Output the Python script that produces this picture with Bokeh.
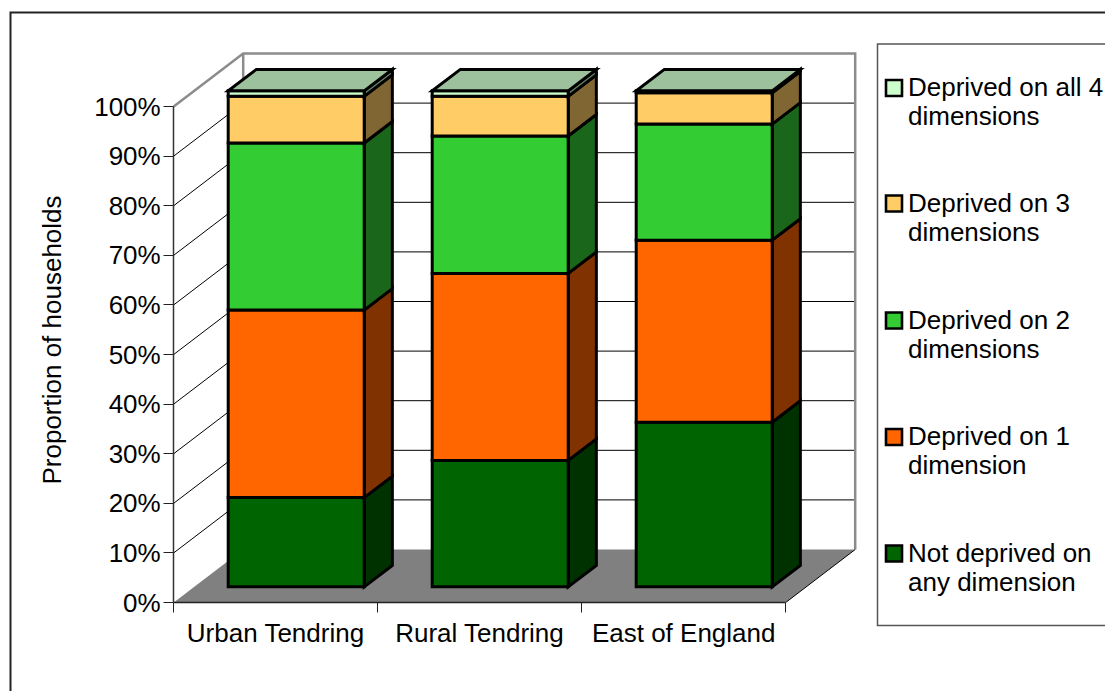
import math
from bokeh.plotting import figure
from bokeh.models import ColumnDataSource, FixedTicker, Range1d
from bokeh.core.properties import value
from bokeh.embed import file_html
from bokeh.resources import INLINE

categories = ["Urban Tendring", "Rural Tendring", "East of England"]
series_names = ["Not deprived on any dimension", "Deprived on 1 dimension",
                "Deprived on 2 dimensions", "Deprived on 3 dimensions",
                "Deprived on all 4 dimensions"]
not_deprived = [18.0, 25.5, 33.2]
deprived_1 = [37.8, 37.7, 36.7]
deprived_2 = [33.7, 27.7, 23.4]
deprived_3 = [9.4, 8.0, 6.3]
deprived_4 = [1.1, 1.1, 0.4]
y_ticks = [0, 10, 20, 30, 40, 50, 60, 70, 80, 90, 100]

legend_first = ["Not deprived on", "Deprived on 1", "Deprived on 2", "Deprived on 3", "Deprived on all 4"]
legend_second = ["any dimension", "dimension", "dimensions", "dimensions", "dimensions"]
front_colors = ["#006400", "#FF6600", "#33CC33", "#FFCC66", "#CCFFCC"]
side_colors = ["#003200", "#803300", "#1A661A", "#806633", "#668066"]
top_color = "#9CC19C"

FONT = "Liberation Sans"
FS = "26px"
W, H = 1105, 691
# pixel position of the data origin on the canvas
X0, Y0 = 173.2, 602
PX_PER_CAT, PX_PER_PCT = 204.0, 4.96
DX = 69.5 / PX_PER_CAT
DY = 53.0 / PX_PER_PCT


def px(x):
    return (x - X0) / PX_PER_CAT


def py(y):
    return (Y0 - y) / PX_PER_PCT


p = figure(width=W, height=H, output_backend="svg", toolbar_location=None,
           x_range=Range1d(px(0), px(W)), y_range=Range1d(py(H), py(0)),
           min_border_left=0, min_border_right=0, min_border_top=0, min_border_bottom=0,
           outline_line_color=None)
p.grid.visible = False

# chart border and legend box
p.line([px(10), px(10), px(W + 5)], [py(H + 5), py(12), py(12)],
       line_color="#222222", line_width=2, line_join="miter")
p.line([px(W + 5), px(877), px(877), px(W + 5)], [py(43.5), py(43.5), py(625), py(625)],
       line_color="#555555", line_width=1.5, line_join="miter")

# walls
gx, gy = [], []
for v in y_ticks[1:-1]:
    gx.append([0, DX, len(categories) + DX])
    gy.append([v, v + DY, v + DY])
p.multi_line(gx, gy, line_color="#000000", line_width=1)
p.line([0, DX, len(categories) + DX, len(categories) + DX],
       [100, 100 + DY, 100 + DY, DY], line_color="#8C8C8C", line_width=2.5,
       line_join="miter")
p.line([DX, DX], [DY, 100 + DY], line_color="#8C8C8C", line_width=2.5)

# floor
p.patch([0, len(categories), len(categories) + DX, DX], [0, 0, DY, DY],
        fill_color="#808080", line_color=None)
p.line([len(categories), len(categories) + DX], [0, DY], line_color="#000000", line_width=1)

# stacked 3D bars
stacks = [not_deprived, deprived_1, deprived_2, deprived_3, deprived_4]
BAR_GAP, BAR_W = 1 / 6, 2 / 3
D0, D1 = 0.295, 0.7
xs, ys, fills = [], [], []
for i in range(len(categories)):
    x0 = i + BAR_GAP + D0 * DX
    x1 = x0 + BAR_W
    y_base = D0 * DY
    bx = (D1 - D0) * DX
    by = (D1 - D0) * DY
    bottom = y_base
    for s, col in enumerate(stacks):
        top = bottom + col[i]
        xs.append([x1, x1 + bx, x1 + bx, x1])
        ys.append([bottom, bottom + by, top + by, top])
        fills.append(side_colors[s])
        xs.append([x0, x1, x1, x0])
        ys.append([bottom, bottom, top, top])
        fills.append(front_colors[s])
        bottom = top
    xs.append([x0, x1, x1 + bx, x0 + bx])
    ys.append([bottom, bottom, bottom + by, bottom + by])
    fills.append(top_color)
p.patches(xs, ys, fill_color=fills, line_color="#000000", line_width=3, line_join="miter")

# axes, held at the data origin
yax = p.yaxis[0]
yax.fixed_location = 0
yax.ticker = FixedTicker(ticks=y_ticks)
yax.bounds = (0, 100)
yax.major_label_overrides = {v: f"{v}%" for v in y_ticks}
yax.major_label_text_font = FONT
yax.major_label_text_font_size = FS
yax.major_label_text_color = "#000000"
yax.major_label_standoff = 3
yax.major_tick_in = 0
yax.major_tick_out = 10
yax.major_tick_line_color = "#222222"
yax.minor_tick_line_color = None
yax.axis_line_color = "#333333"
yax.axis_line_width = 1.5

xax = p.xaxis[0]
xax.fixed_location = 0
xax.ticker = FixedTicker(ticks=[i + 0.5 for i in range(len(categories))],
                         minor_ticks=list(range(len(categories) + 1)))
xax.bounds = (0, len(categories))
xax.major_label_overrides = {i + 0.5: c for i, c in enumerate(categories)}
xax.major_label_text_font = FONT
xax.major_label_text_font_size = FS
xax.major_label_text_color = "#000000"
xax.major_label_standoff = 5
xax.major_tick_in = 0
xax.major_tick_out = 10
xax.major_tick_line_color = None
xax.minor_tick_in = 0
xax.minor_tick_out = 10
xax.minor_tick_line_color = "#222222"
xax.axis_line_color = "#222222"
xax.axis_line_width = 1.5

# axis title
p.text(x=[px(51)], y=[py(339.5)], text=["Proportion of households"], angle=math.pi / 2,
       text_font=value(FONT), text_font_size=value(FS), text_color="#000000",
       text_align="center", text_baseline="middle")

# legend
LEG_Y = [552, 435.5, 319, 202, 86]
SW_Y = [553, 436.5, 320, 203, 87.5]
src = ColumnDataSource(dict(
    left=[px(885.5)] * 5, right=[px(901.5)] * 5,
    top=[py(y - 8) for y in SW_Y], bottom=[py(y + 8) for y in SW_Y],
    color=front_colors))
p.quad(left="left", right="right", top="top", bottom="bottom", source=src,
       fill_color="color", line_color="#000000", line_width=2.6, line_join="miter")
txt = ColumnDataSource(dict(
    x=[px(907.5)] * 10,
    y=[py(y) for y in LEG_Y] + [py(y + 29) for y in LEG_Y],
    t=legend_first + legend_second))
p.text(x="x", y="y", text="t", source=txt, text_font=value(FONT), text_font_size=value(FS),
       text_color="#000000", text_baseline="middle", text_align="left")

open("out.html", "w").write(file_html(p, INLINE))
